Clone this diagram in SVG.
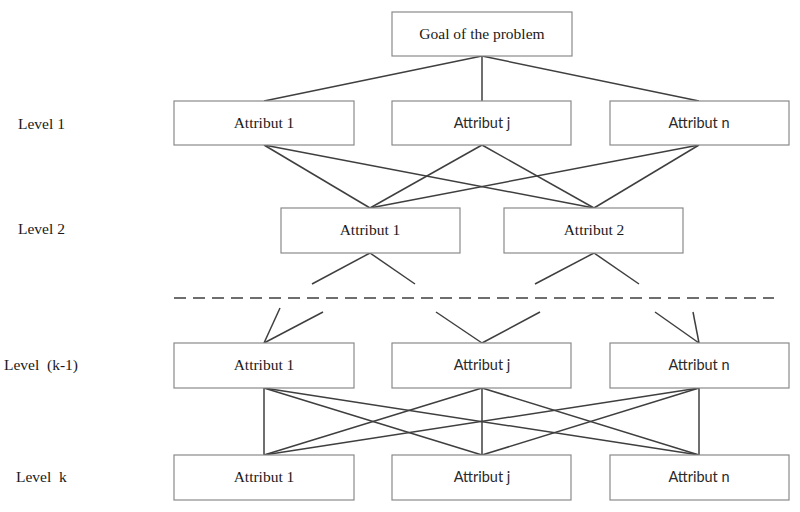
<svg xmlns="http://www.w3.org/2000/svg" width="800" height="512" viewBox="0 0 800 512">
<style>
  .box rect { fill: #ffffff; stroke: #8a8a8a; stroke-width: 1.2; }
  .serif { font-family: "Liberation Serif", "Times New Roman", serif; font-size: 15.5px; fill: #1a1a1a; text-anchor: middle; }
  .sans { font-family: Lato, "Liberation Sans", sans-serif; font-size: 14.5px; fill: #2a2a2a; text-anchor: middle; }
  .lvl { font-family: "Liberation Serif", "Times New Roman", serif; font-size: 15.5px; fill: #1a1a1a; white-space: pre; }
  .conn line { stroke: #3f3f3f; stroke-width: 1.5; fill: none; }
  .dash { stroke: #707070; stroke-width: 2; stroke-dasharray: 12 7; }
</style>
<rect width="800" height="512" fill="#ffffff"/>

<g id="connectors" class="conn">
  <line x1="482" y1="56" x2="264" y2="101"/>
  <line x1="482" y1="56" x2="482" y2="101"/>
  <line x1="482" y1="56" x2="699" y2="101"/>
  <line x1="264" y1="145" x2="370" y2="208"/>
  <line x1="264" y1="145" x2="594" y2="208"/>
  <line x1="482" y1="145" x2="370" y2="208"/>
  <line x1="482" y1="145" x2="594" y2="208"/>
  <line x1="699" y1="145" x2="370" y2="208"/>
  <line x1="699" y1="145" x2="594" y2="208"/>
  <line x1="370" y1="253" x2="312" y2="284"/>
  <line x1="370" y1="253" x2="415" y2="284"/>
  <line x1="594" y1="253" x2="535" y2="284"/>
  <line x1="594" y1="253" x2="639" y2="284"/>
  <line x1="264" y1="343" x2="280" y2="308"/>
  <line x1="264" y1="343" x2="323" y2="312"/>
  <line x1="482" y1="343" x2="436" y2="312"/>
  <line x1="482" y1="343" x2="540" y2="312"/>
  <line x1="699" y1="343" x2="655" y2="312"/>
  <line x1="699" y1="343" x2="693" y2="312"/>
  <line x1="264" y1="388" x2="264" y2="455"/>
  <line x1="264" y1="388" x2="482" y2="455"/>
  <line x1="264" y1="388" x2="699" y2="455"/>
  <line x1="482" y1="388" x2="264" y2="455"/>
  <line x1="482" y1="388" x2="482" y2="455"/>
  <line x1="482" y1="388" x2="699" y2="455"/>
  <line x1="699" y1="388" x2="264" y2="455"/>
  <line x1="699" y1="388" x2="482" y2="455"/>
  <line x1="699" y1="388" x2="699" y2="455"/>
  <line class="dash" x1="174" y1="298" x2="774" y2="298"/>
</g>

<g id="goal" class="box"><rect x="392" y="12" width="180" height="44"/><text class="serif" x="482" y="39">Goal of the problem</text></g>

<g id="l1-a1" class="box"><rect x="174" y="101" width="180" height="44"/><text class="serif" x="264" y="128">Attribut 1</text></g>
<g id="l1-aj" class="box"><rect x="392" y="101" width="179" height="44"/><text class="sans" x="482" y="128">Attribut j</text></g>
<g id="l1-an" class="box"><rect x="610" y="101" width="179" height="44"/><text class="sans" x="699" y="128">Attribut n</text></g>

<g id="l2-a1" class="box"><rect x="281" y="208" width="179" height="45"/><text class="serif" x="370" y="235">Attribut 1</text></g>
<g id="l2-a2" class="box"><rect x="504" y="208" width="179" height="45"/><text class="serif" x="594" y="235">Attribut 2</text></g>

<g id="lk1-a1" class="box"><rect x="174" y="343" width="180" height="45"/><text class="serif" x="264" y="370">Attribut 1</text></g>
<g id="lk1-aj" class="box"><rect x="392" y="343" width="179" height="45"/><text class="sans" x="482" y="370">Attribut j</text></g>
<g id="lk1-an" class="box"><rect x="610" y="343" width="179" height="45"/><text class="sans" x="699" y="370">Attribut n</text></g>

<g id="lk-a1" class="box"><rect x="174" y="455" width="180" height="45"/><text class="serif" x="264" y="482">Attribut 1</text></g>
<g id="lk-aj" class="box"><rect x="392" y="455" width="179" height="45"/><text class="sans" x="482" y="482">Attribut j</text></g>
<g id="lk-an" class="box"><rect x="610" y="455" width="179" height="45"/><text class="sans" x="699" y="482">Attribut n</text></g>

<g id="levels">
  <text class="lvl" x="18" y="129">Level 1</text>
  <text class="lvl" x="18" y="234">Level 2</text>
  <text class="lvl" x="4" y="370" xml:space="preserve">Level  (k-1)</text>
  <text class="lvl" x="16" y="482" xml:space="preserve">Level  k</text>
</g>
</svg>
